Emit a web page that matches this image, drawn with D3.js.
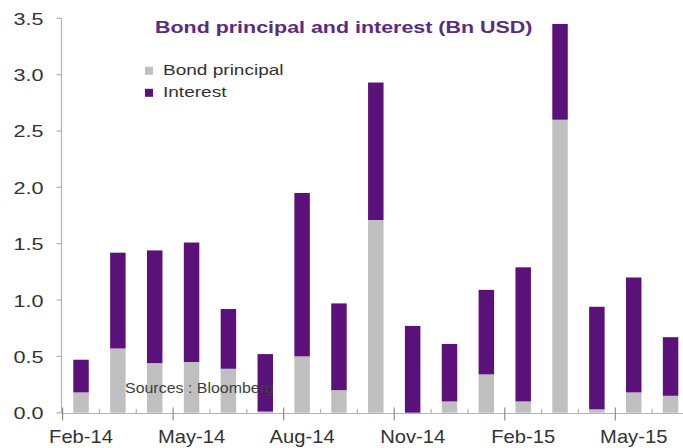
<!DOCTYPE html>
<html>
<head>
<meta charset="utf-8">
<script src="https://cdn.jsdelivr.net/npm/d3@7"></script>
<style>
  html, body { margin: 0; padding: 0; background: #fff; }
  svg { display: block; font-family: "Liberation Sans", Arial, sans-serif; }
</style>
</head>
<body>
<svg id="chart" width="683" height="448"></svg>
<script>
// Monthly bond payments, Bn USD
const months = ["Feb-14","Mar-14","Apr-14","May-14","Jun-14","Jul-14","Aug-14","Sep-14","Oct-14",
                "Nov-14","Dec-14","Jan-15","Feb-15","Mar-15","Apr-15","May-15","Jun-15"];
const principal = [0.18,0.57,0.44,0.45,0.39,0.01,0.50,0.20,1.71,0.00,0.10,0.34,0.10,2.60,0.03,0.18,0.15];
const interest  = [0.29,0.85,1.00,1.06,0.53,0.51,1.45,0.77,1.22,0.77,0.51,0.75,1.19,0.85,0.91,1.02,0.52];
const seriesNames = ["Bond principal", "Interest"];
const yTicks = [0, 0.5, 1.0, 1.5, 2.0, 2.5, 3.0, 3.5];
const titleText = "Bond principal and interest (Bn USD)";
const sourceText = "Sources : Bloomberg";

const colors = { "Bond principal": "#bfbfbf", "Interest": "#5a1179" };
const axisColor = "#b3b3b3";
const textColor = "#333333";

const svg = d3.select("#chart");
const axisX0 = 61.5, axisY0 = 413.5;

const rows = months.map((m, i) => ({ month: m, "Bond principal": principal[i], "Interest": interest[i] }));
const stacked = d3.stack().keys(seriesNames)(rows);

const x = d3.scaleBand().domain(months).range([62.6, 689]).padding(0);
const barW = x.bandwidth() * 0.42;
const y = d3.scaleLinear().domain([0, 3.5]).range([412.7, 18.3]);

// stacked bars
svg.append("g").selectAll("g").data(stacked).join("g")
  .attr("fill", d => colors[d.key])
  .selectAll("rect").data(d => d).join("rect")
  .attr("x", d => x(d.data.month) + x.bandwidth() / 2 - barW / 2)
  .attr("width", barW)
  .attr("y", d => y(d[1]))
  .attr("height", d => Math.max(0, y(d[0]) - y(d[1])));

// horizontally widened text helper
function stretchedText(g, str, px, py, sx, opts) {
  const t = g.append("text")
    .attr("transform", `translate(${px},${py}) scale(${sx},1)`)
    .attr("font-size", opts.size)
    .attr("fill", opts.fill || textColor)
    .attr("text-anchor", opts.anchor || "start")
    .text(str);
  if (opts.weight) t.attr("font-weight", opts.weight);
  return t;
}

// y axis
const yAxis = svg.append("g");
yAxis.append("line")
  .attr("x1", axisX0).attr("x2", axisX0)
  .attr("y1", y(3.5)).attr("y2", axisY0)
  .attr("stroke", axisColor).attr("stroke-width", 1.2);
yTicks.forEach(v => {
  yAxis.append("line")
    .attr("x1", axisX0 - 5).attr("x2", axisX0)
    .attr("y1", y(v)).attr("y2", y(v))
    .attr("stroke", axisColor).attr("stroke-width", 1.2);
  stretchedText(yAxis, d3.format(".1f")(v), 43.5, y(v) + 6.5, 1.35,
    { size: "16px", anchor: "end" });
});

// x axis
const xAxis = svg.append("g");
xAxis.append("line")
  .attr("x1", axisX0).attr("x2", 683)
  .attr("y1", axisY0).attr("y2", axisY0)
  .attr("stroke", axisColor).attr("stroke-width", 1.2);
months.forEach((m, i) => {
  const bx = x(m);
  const major = i % 3 === 0;
  xAxis.append("line")
    .attr("x1", bx).attr("x2", bx)
    .attr("y1", axisY0 - (major ? 6 : 4.5)).attr("y2", axisY0 + (major ? 7 : 0))
    .attr("stroke", major ? "#8c8c8c" : axisColor).attr("stroke-width", 1.2);
  if (major) {
    stretchedText(xAxis, m, bx + x.bandwidth() / 2, 442.5, 1.12,
      { size: "18px", anchor: "middle" });
  }
});

// title
stretchedText(svg, titleText, 155, 33.3, 1.34,
  { size: "16px", weight: "bold", fill: "#5b2b84" });

// legend
const legend = svg.append("g");
seriesNames.forEach((name, i) => {
  const ly = 66.8 + i * 22;
  legend.append("rect")
    .attr("x", 145).attr("y", ly).attr("width", 8).attr("height", 8)
    .attr("fill", colors[name]);
  stretchedText(legend, name, 163, ly + 7.8, 1.27, { size: "15px" });
});

// source note
stretchedText(svg, sourceText, 125, 393, 1.1, { size: "14.5px", fill: "#404040" });
</script>
</body>
</html>
